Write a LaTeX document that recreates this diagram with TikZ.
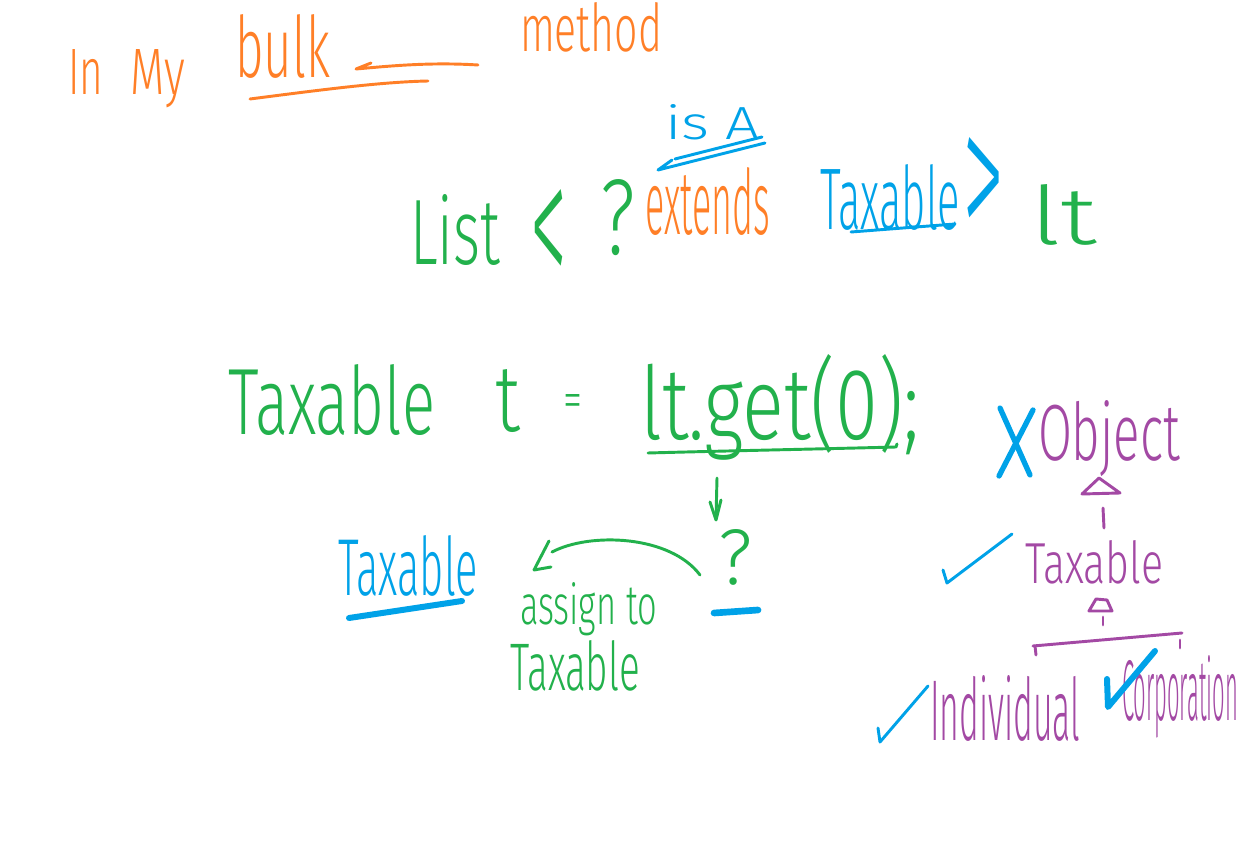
\documentclass[tikz,border=0pt]{standalone}
\usepackage{fontspec}
\setmainfont{Fira Sans}[UprightFont=* Light]
\usepackage{graphicx}
\usetikzlibrary{arrows.meta}
\newdimen\pxu \pxu=0.75pt
\newcommand{\rb}[3]{\resizebox{#1\pxu}{#2\pxu}{#3}}
\definecolor{hwor}{HTML}{FF7F27}
\definecolor{hwgr}{HTML}{22B14C}
\definecolor{hwbl}{HTML}{00A2E8}
\definecolor{hwpu}{HTML}{A349A4}
\begin{document}
\begin{tikzpicture}[x=0.75pt,y=-0.75pt,
  hw/.style={inner sep=0pt,outer sep=0pt,anchor=base west,font=\fontsize{40}{40}\selectfont},
  pen/.style={line width=2.2pt,line cap=round,line join=round},
  marker/.style={line width=4.5pt,line cap=round,line join=round,hwbl}]
\fill[white] (0,0) rectangle (1254,841);
\useasboundingbox (0,0) rectangle (1254,841);
% texts
\node[hw,text=hwor] (in) at (68,95) {\rb{35}{45}{In}};
\node[hw,text=hwor] (my) at (130,95) {\rb{55}{45}{My}};
\node[hw,text=hwor] (bulk) at (235,78) {\rb{95}{63}{bulk}};
\node[hw,text=hwor] (method) at (520,52) {\rb{142}{49}{method}};
\node[hw,text=hwgr] (list) at (410,265) {\rb{90}{70}{List}};
\node[hw,text=hwgr] (lt1) at (530,293) {\rb{37}{103}{<}};
\node[hw,text=hwgr] (q1) at (600,255) {\rb{35}{75}{?}};
\node[hw,text=hwor] (extends) at (645,235) {\rb{125}{67}{extends}};
\node[hw,text=hwbl] (isa) at (665,140) {\rb{95}{35}{is A}};
\node[hw,text=hwbl] (tax1) at (820,230) {\rb{140}{65}{Taxable}};
\node[hw,text=hwbl] (gt1) at (962,246) {\rb{42}{108}{>}};
\node[hw,text=hwgr] (ltvar) at (1030,245) {\rb{67}{60}{lt}};
\node[hw,text=hwgr] (tax2) at (228,435) {\rb{207}{70}{Taxable}};
\node[hw,text=hwgr] (tvar) at (495,432) {\rb{25}{62}{t}};
\node[hw,text=hwgr] (eq) at (563,418) {\rb{19}{23}{=}};
\node[hw,text=hwgr] (get) at (640,440) {\rb{280}{85}{lt.get(0);}};
\node[hw,text=hwgr] (q2) at (718,585) {\rb{34}{55}{?}};
\node[hw,text=hwgr] (assign) at (520,625) {\rb{137}{42}{assign to}};
\node[hw,text=hwgr] (tax3) at (510,690) {\rb{130}{50}{Taxable}};
\node[hw,text=hwbl] (tax4) at (338,595) {\rb{140}{60}{Taxable}};
\node[hw,text=hwpu] (object) at (1038,460) {\rb{142}{60}{Object}};
\node[hw,text=hwpu] (tax5) at (1025,583) {\rb{138}{43}{Taxable}};
\node[hw,text=hwpu] (indiv) at (930,740) {\rb{150}{65}{Individual}};
\node[hw,text=hwpu] (corp) at (1122,720) {\rb{116}{65}{Corporation}};
% orange strokes
\coordinate (ulA) at (250,99); \coordinate (ulB) at (428,81);
\draw[pen,hwor] (ulA) .. controls (320,90) and (380,82) .. (ulB);
\coordinate (mA) at (478,65); \coordinate (mB) at (356,69);
\draw[pen,hwor] (mA) .. controls (430,62) and (390,66) .. (mB) -- (371,63);
% is A arrow
\coordinate (iaA) at (765,143); \coordinate (iaB) at (658,170);
\draw[pen,hwbl] (iaA) -- (iaB) -- (672,160);
\draw[pen,hwbl] (762,137) -- (675,159);
\draw[pen,hwbl] (851,232) -- (955,224);
% get underline and arrows
\draw[pen,hwgr] (648,453) .. controls (720,451) and (820,449) .. (896,447) -- (897,444);
\coordinate (dA) at (717,478); \coordinate (dB) at (716,519);
\draw[pen,hwgr] (dA) -- (dB);
\draw[pen,hwgr] (710,502) -- (716,520) -- (721,500);
\coordinate (cA) at (700,575); \coordinate (cB) at (552,552);
\draw[pen,hwgr] (cA) .. controls (670,535) and (590,532) .. (cB);
\draw[pen,hwgr] (549,541) -- (534,570) -- (551,567);
\draw[marker,line width=5pt] (714,613) -- (758,610);
\draw[marker] (349,618) -- (462,601);
% right hierarchy
\draw[marker,line width=4pt] (1000,408) -- (1030,475);
\draw[marker,line width=4pt] (1033,410) -- (999,476);
\draw[pen,hwpu] (1082,494) -- (1099,478) -- (1120,493) -- cycle;
\draw[pen,hwpu] (1103,508) -- (1104,528);
\draw[pen,hwpu] (1089,611) -- (1096,599) -- (1107,600) -- (1112,611) -- cycle;
\draw[pen,hwpu] (1103,617) -- (1103,625);
\draw[pen,hwpu] (1033,646) -- (1182,633);
\draw[pen,hwpu] (1035,646) -- (1036,655);
\draw[pen,hwpu] (1180,640) -- (1180,648);
% checks
\draw[pen,hwbl] (943,570) -- (947,583) -- (1012,534);
\draw[pen,hwbl] (878,728) -- (880,742) -- (928,686);
\draw[marker] (1107,679) -- (1108,707) -- (1155,651);
\end{tikzpicture}
\end{document}
